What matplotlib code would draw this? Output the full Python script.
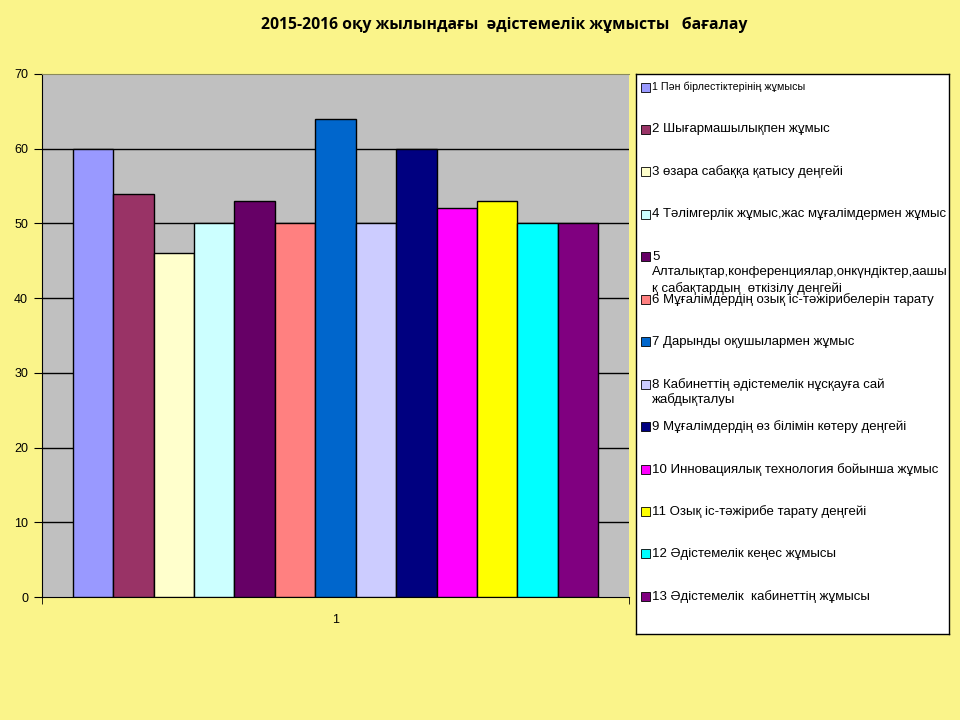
import matplotlib
matplotlib.use("Agg")
import matplotlib.pyplot as plt
from matplotlib.patches import Rectangle

plt.rcParams['font.family'] = ['Liberation Sans', 'DejaVu Sans']

title = "2015-2016 оқу жылындағы  әдістемелік жұмысты   бағалау"
category = "1"
labels = [
    "1 Пән бірлестіктерінің жұмысы",
    "2 Шығармашылықпен жұмыс",
    "3 өзара сабаққа қатысу деңгейі",
    "4 Тәлімгерлік жұмыс,жас мұғалімдермен жұмыс",
    "5\nАлталықтар,конференциялар,онкүндіктер,аашы\nқ сабақтардың  өткізілу деңгейі",
    "6 Мұғалімдердің озық іс-тәжірибелерін тарату",
    "7 Дарынды оқушылармен жұмыс",
    "8 Кабинеттің әдістемелік нұсқауға сай\nжабдықталуы",
    "9 Мұғалімдердің өз білімін көтеру деңгейі",
    "10 Инновациялық технология бойынша жұмыс",
    "11 Озық іс-тәжірибе тарату деңгейі",
    "12 Әдістемелік кеңес жұмысы",
    "13 Әдістемелік  кабинеттің жұмысы",
]
values = [60, 54, 46, 50, 53, 50, 64, 50, 60, 52, 53, 50, 50]
colors = ["#9999FF", "#993366", "#FFFFCC", "#CCFFFF", "#660066", "#FF8080",
          "#0066CC", "#CCCCFF", "#000080", "#FF00FF", "#FFFF00", "#00FFFF", "#800080"]

bg = "#FAF48A"
fig = plt.figure(figsize=(9.6, 7.2), dpi=100, facecolor=bg)

# main plot area
ax = fig.add_axes([42/960, 1-597/720, 587/960, 523/720])
ax.set_facecolor("#C0C0C0")
w = 0.0689
n = len(values)
for i, (v, c, lab) in enumerate(zip(values, colors, labels)):
    ax.bar((i - (n-1)/2) * w, v, width=w, color=c, edgecolor="black",
           linewidth=1, label=lab, zorder=3)
ax.set_xlim(-0.5, 0.5)
ax.set_ylim(0, 70)
ax.set_yticks(range(0, 71, 10))
for y in range(10, 70, 10):
    ax.axhline(y, color="black", linewidth=1, zorder=1)
ax.set_xticks([0])
ax.set_xticklabels([category])
ax.set_xticks([-0.5, 0.5], minor=True)
ax.tick_params(axis='x', which='major', length=0, pad=12, labelsize=9)
ax.tick_params(axis='x', which='minor', length=5, direction='out')
ax.tick_params(axis='y', length=6, direction='out', labelsize=9, pad=4)
ax.spines['right'].set_visible(False)
ax.spines['top'].set_color("#8a8a5a")
ax.spines['left'].set_color("black")
ax.spines['bottom'].set_color("black")

fig.text(504/960, 1-25/720, title, ha='center', va='center',
         fontsize=11.3, fontweight='bold',
         family=['Open Sans', 'DejaVu Sans'])

# legend box
lx0, lx1, ly0, ly1 = 636, 949, 74, 634
lax = fig.add_axes([lx0/960, 1-ly1/720, (lx1-lx0)/960, (ly1-ly0)/720])
lax.set_xlim(lx0, lx1)
lax.set_ylim(ly1, ly0)
lax.set_facecolor("white")
lax.set_xticks([])
lax.set_yticks([])
for s in lax.spines.values():
    s.set_color("black")
    s.set_linewidth(1)
for i, (lab, c) in enumerate(zip(labels, colors)):
    yc = 87 + 42.45 * i
    lax.add_patch(Rectangle((641, yc - 4.5), 9, 9, facecolor=c,
                            edgecolor="black", linewidth=0.6))
    lines = lab.split("\n")
    fs = 7.7 if i == 0 else 9.5
    lax.text(652, yc, lines[0], va='center', ha='left', fontsize=fs)
    for k, extra in enumerate(lines[1:], start=1):
        lax.text(652, yc + 15.7 * k, extra, va='center', ha='left', fontsize=fs)

fig.savefig("out.png", dpi=100, facecolor=bg)
